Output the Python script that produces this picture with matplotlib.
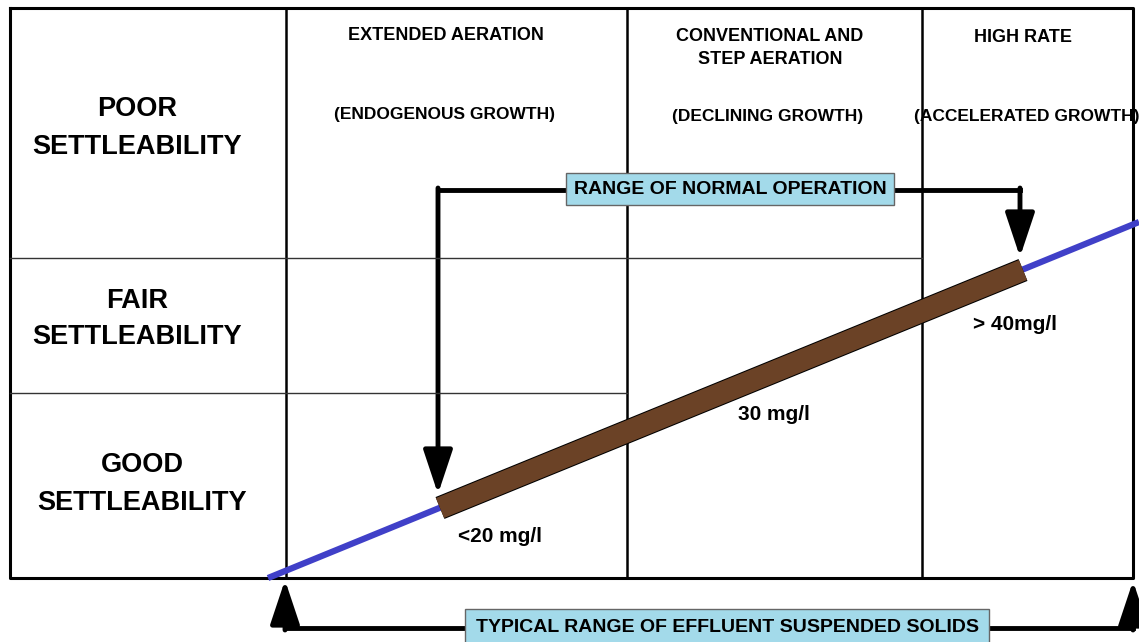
import matplotlib.pyplot as plt
from matplotlib import patheffects as pe

# diagram geometry in picture pixels (x right, y down)
frame = (10, 8, 1133, 578)          # left, top, right, bottom
col_edges = [286, 627, 922]
row_lines = [(258, 922), (393, 627)]  # y, right end

row_labels = ["POOR\nSETTLEABILITY", "FAIR\nSETTLEABILITY", "GOOD\nSETTLEABILITY"]
row_label_pos = [(137, 128), (137, 319), (142, 484)]

col_titles = ["EXTENDED AERATION", "CONVENTIONAL AND\nSTEP AERATION", "HIGH RATE"]
col_title_pos = [(446, 35), (770, 48), (1023, 38)]
col_sub = ["(ENDOGENOUS GROWTH)", "(DECLINING GROWTH)", "(ACCELERATED GROWTH)"]
col_sub_pos = [(444, 115), (768, 117), (1027, 117)]

blue_line_x = [268, 1139]
blue_line_y = [578, 222]
brown_x = [440, 1023]
brown_y = [508, 270]

conc_labels = ["<20 mg/l", "30 mg/l", "> 40mg/l"]
conc_pos = [(500, 536), (774, 414), (1015, 325)]

FONT = ["Liberation Sans", "DejaVu Sans"]

fig = plt.figure(figsize=(11.39, 6.42), dpi=100)
ax = fig.add_axes([0, 0, 1, 1])
ax.set_xlim(0, 1139)
ax.set_ylim(642, 0)
ax.axis("off")

l, t, r, b = frame
ax.plot([l, r, r, l, l], [t, t, b, b, t], color="black", lw=2.2, zorder=3)
for x in col_edges:
    ax.plot([x, x], [t, b], color="black", lw=1.8, zorder=3)
for y, xe in row_lines:
    ax.plot([l, xe], [y, y], color="#333333", lw=1.0, zorder=3)

for s, (x, y) in zip(row_labels, row_label_pos):
    ax.text(x, y, s, ha="center", va="center", fontsize=19.5, fontweight="bold",
            family=FONT, linespacing=1.55)
for s, (x, y) in zip(col_titles, col_title_pos):
    ax.text(x, y, s, ha="center", va="center", fontsize=13, fontweight="bold",
            family=FONT, linespacing=1.5)
for s, (x, y) in zip(col_sub, col_sub_pos):
    ax.text(x, y, s, ha="center", va="center", fontsize=12.5, fontweight="bold",
            family=FONT)

# effluent line and normal range bar
ax.plot(blue_line_x, blue_line_y, color="#4040C8", lw=4.5, solid_capstyle="butt", zorder=4)
ax.plot(brown_x, brown_y, color="#6B4226", lw=15.5, solid_capstyle="butt", zorder=5,
        path_effects=[pe.Stroke(linewidth=17, foreground="black"), pe.Normal()])

for s, (x, y) in zip(conc_labels, conc_pos):
    ax.text(x, y, s, ha="center", va="center", fontsize=15, fontweight="bold", family=FONT)

# arrows
arrow_kw = dict(arrowstyle="-|>,head_length=1.35,head_width=0.45", lw=3.5, color="black",
                shrinkA=0, shrinkB=0, mutation_scale=20)
ax.plot([438, 1020], [190, 190], color="black", lw=3.5, zorder=2)
ax.annotate("", xy=(438, 494), xytext=(438, 188), arrowprops=arrow_kw, zorder=2)
ax.annotate("", xy=(1020, 257), xytext=(1020, 188), arrowprops=arrow_kw, zorder=2)

ax.plot([285, 1133], [628, 628], color="black", lw=3.5, zorder=2)
ax.annotate("", xy=(285, 580), xytext=(285, 630), arrowprops=arrow_kw, zorder=2)
ax.annotate("", xy=(1133, 581), xytext=(1133, 630), arrowprops=arrow_kw, zorder=2)

ax.text(730, 189, "RANGE OF NORMAL OPERATION", ha="center", va="center", fontsize=14,
        fontweight="bold", family=FONT, zorder=6,
        bbox=dict(boxstyle="square,pad=0.4", facecolor="#A3DAEA", edgecolor="#666666", lw=1))
ax.text(727, 628, "TYPICAL RANGE OF EFFLUENT SUSPENDED SOLIDS", ha="center", va="center",
        fontsize=14, fontweight="bold", family=FONT, zorder=6,
        bbox=dict(boxstyle="square,pad=0.55", facecolor="#A3DAEA", edgecolor="#666666", lw=1))

fig.savefig("out.png", dpi=100)
